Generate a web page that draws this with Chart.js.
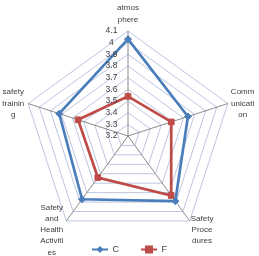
<!DOCTYPE html>
<html>
<head>
<meta charset="utf-8">
<script src="https://cdn.jsdelivr.net/npm/chart.js@4.4.1/dist/chart.umd.min.js"></script>
<style>
  html, body { margin: 0; padding: 0; background: #ffffff; }
  #wrap { position: relative; width: 259px; height: 256px; }
</style>
</head>
<body>
<div id="wrap"><canvas id="c" width="259" height="256"></canvas></div>
<script>
const categories = [
  ['atmos', 'phere'],
  ['Comm', 'unicati', 'on'],
  ['Safety', 'Proce', 'dures'],
  ['Safety', 'and', 'Health', 'Activiti', 'es'],
  ['safety', 'trainin', 'g']
];
const seriesNames = ['C', 'F'];
const valuesC = [4.03, 3.74, 3.89, 3.87, 3.82];
const valuesF = [3.54, 3.59, 3.83, 3.64, 3.65];
const tickValues = [3.2, 3.3, 3.4, 3.5, 3.6, 3.7, 3.8, 3.9, 4.0, 4.1];

const BLUE = '#4a7ebb';
const RED = '#be4b48';
const TEXT = '#404040';
const FONT = 'Liberation Sans, Arial, sans-serif';

function legendIcon(color, shape) {
  const cv = document.createElement('canvas');
  cv.width = 16; cv.height = 9;
  const g = cv.getContext('2d');
  g.strokeStyle = color; g.lineWidth = 2;
  g.beginPath(); g.moveTo(0, 4.5); g.lineTo(16, 4.5); g.stroke();
  g.fillStyle = color;
  if (shape === 'diamond') {
    g.beginPath(); g.moveTo(8, 1); g.lineTo(11.5, 4.5); g.lineTo(8, 8); g.lineTo(4.5, 4.5); g.closePath(); g.fill();
  } else {
    g.fillRect(4, 0.5, 8, 8);
  }
  return cv;
}
const iconC = legendIcon(BLUE, 'diamond');
const iconF = legendIcon(RED, 'square');

// Excel-like point labels: centred multi-line blocks placed beside each spoke end
const pointLabelPlugin = {
  id: 'excelPointLabels',
  afterDraw(chart) {
    const scale = chart.scales.r;
    const ctx = chart.ctx;
    const lh = 11.3;
    ctx.save();
    ctx.font = '8px ' + FONT;
    ctx.fillStyle = TEXT;
    ctx.textAlign = 'center';
    ctx.textBaseline = 'middle';
    chart.data.labels.forEach((lines, i) => {
      const p = scale.getPointPosition(i, scale.drawingArea);
      const w = Math.max(...lines.map(s => ctx.measureText(s).width));
      const h = lines.length * lh;
      const dx = p.x - scale.xCenter, dy = p.y - scale.yCenter;
      let cx, top;
      if (Math.abs(dx) < 1) {            // top
        cx = p.x; top = p.y - 6 - h;
      } else if (dy > scale.drawingArea * 0.5) { // lower spokes
        cx = dx > 0 ? p.x + 1 + w / 2 : p.x - 3 - w / 2;
        top = p.y + 9 - h / 2;
      } else {                           // side spokes
        cx = dx > 0 ? p.x + 3 + w / 2 : p.x - 4 - w / 2;
        top = p.y - h / 2;
      }
      lines.forEach((s, k) => ctx.fillText(s, cx, top + lh * (k + 0.5)));
    });
    ctx.restore();
  }
};

new Chart(document.getElementById('c'), {
  type: 'radar',
  data: {
    labels: categories,
    datasets: [
      {
        label: seriesNames[0], data: valuesC,
        borderColor: BLUE, backgroundColor: 'transparent', borderWidth: 2.7,
        pointStyle: 'rectRot', pointRadius: 3.5, pointBackgroundColor: BLUE, pointBorderColor: BLUE,
        pointBorderWidth: 1, fill: false, tension: 0
      },
      {
        label: seriesNames[1], data: valuesF,
        borderColor: RED, backgroundColor: 'transparent', borderWidth: 2.7,
        pointStyle: 'rect', pointRadius: 4, pointBackgroundColor: RED, pointBorderColor: RED,
        pointBorderWidth: 1, fill: false, tension: 0
      }
    ]
  },
  plugins: [pointLabelPlugin],
  options: {
    responsive: false,
    animation: false,
    devicePixelRatio: 1,
    layout: { padding: { top: 0, left: 0, right: 0, bottom: -8 } },
    plugins: {
      tooltip: { enabled: false },
      legend: {
        position: 'bottom',
        labels: {
          usePointStyle: true,
          pointStyleWidth: 16,
          boxHeight: 9,
          padding: 22,
          color: TEXT,
          font: { family: FONT, size: 9 },
          generateLabels: (chart) => chart.data.datasets.map((ds, i) => ({
            text: ds.label,
            pointStyle: i === 0 ? iconC : iconF,
            fillStyle: ds.borderColor,
            strokeStyle: ds.borderColor,
            lineWidth: 0,
            hidden: false,
            datasetIndex: i,
            fontColor: TEXT
          }))
        }
      }
    },
    scales: {
      r: {
        min: tickValues[0],
        max: tickValues[tickValues.length - 1],
        startAngle: 0,
        afterBuildTicks: (scale) => {
          scale.ticks = [{ value: tickValues[0] }].concat(tickValues.map(v => ({ value: v })));
        },
        afterFit: (scale) => {
          scale.xCenter = 128;
          scale.yCenter = 136;
          scale.drawingArea = 105;
        },
        ticks: {
          showLabelBackdrop: false,
          color: TEXT,
          font: { family: FONT, size: 8.5 },
          callback: (v) => String(parseFloat(Number(v).toFixed(1))) + '              ',
          z: 1
        },
        grid: { color: '#bcc6e2', lineWidth: 1 },
        angleLines: { color: '#8c8c8c', lineWidth: 1 },
        pointLabels: { display: false }
      }
    }
  }
});
</script>
</body>
</html>
